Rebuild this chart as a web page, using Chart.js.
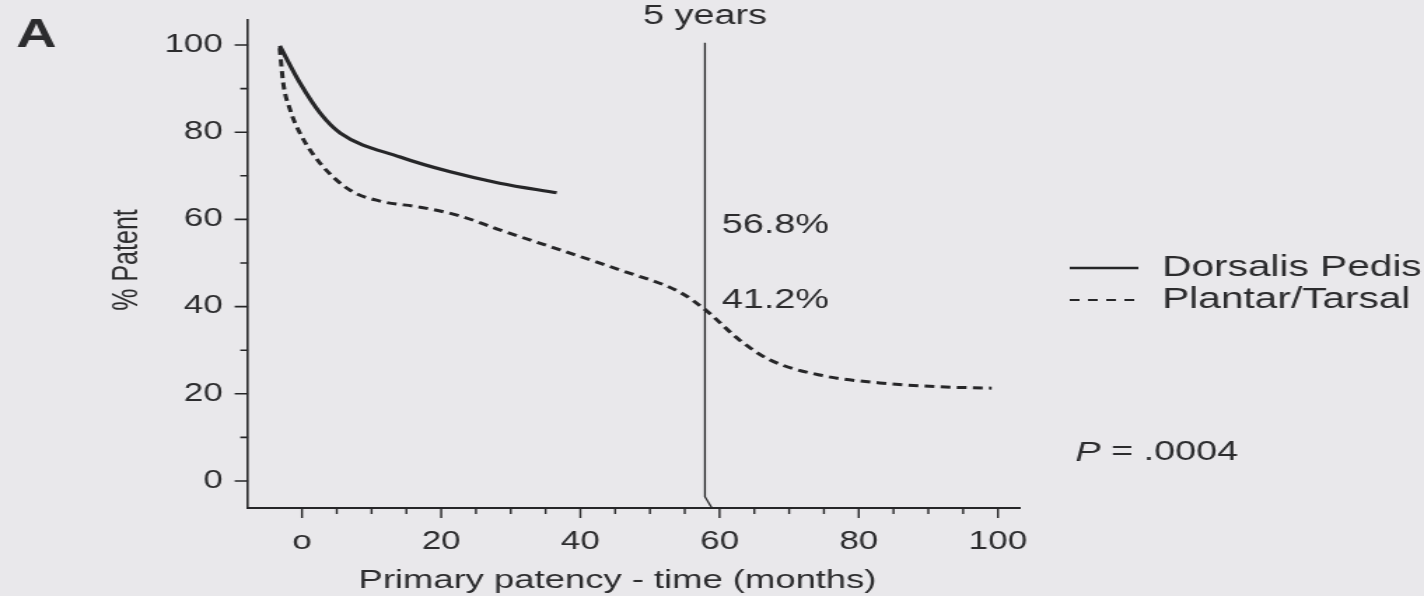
<!DOCTYPE html>
<html>
<head>
<meta charset="utf-8">
<title>Primary patency</title>
<script src="https://cdn.jsdelivr.net/npm/chart.js@4.4.0/dist/chart.umd.min.js"></script>
<style>
  html, body { margin: 0; padding: 0; background: #e9e8eb; overflow: hidden; }
  #chart { display: block; }
</style>
</head>
<body>
<!-- the scanned figure is wider than it is tall, so the canvas is stretched sideways -->
<canvas id="chart" width="1017" height="596" style="width:1424px;height:596px"></canvas>
<script>
// values (months, % patent)
const dorsalisMonths = [-3.2, -0.3, 2.6, 5.5, 14.1, 21.3, 28.4, 36.6];
const dorsalisPatent = [99.8, 91.3, 84.4, 79.8, 74.3, 70.9, 68.3, 66.1];
const plantarMonths = [-3.2, -2.7, -1.7, -0.3, 2.6, 6.9, 11.2, 17.0, 22.7, 28.4, 37.1, 45.7, 54.3, 58.0, 62.9, 67.2, 74.4, 83.0, 91.7, 99.1];
const plantarPatent = [99.3, 91.3, 85.1, 79.8, 72.9, 66.7, 64.2, 62.8, 60.8, 57.6, 53.0, 48.4, 43.3, 39.2, 32.3, 27.8, 24.3, 22.5, 21.6, 21.3];
const markerMonths = [57.9, 57.9, 58.9];
const markerPatent = [100.5, -3.6, -6.2];

const seriesNames = ["Dorsalis Pedis", "Plantar/Tarsal"];
const yTickValues = [0, 20, 40, 60, 80, 100];
const yTickLabels = ["0", "20", "40", "60", "80", "100"];
const xTickValues = [0, 20, 40, 60, 80, 100];
const xTickLabels = ["o", "20", "40", "60", "80", "100"];
const markerLabel = "5 years";
const rateLabels = ["56.8%", "41.2%"];
const rateLabelLevels = [58.7, 41.5];
const pValue = ".0004";

const INK = "#262628";
const TEXT = "#2c2c2e";
const FONT = "'Liberation Sans', Arial, Helvetica, sans-serif";

Chart.defaults.font.family = FONT;
Chart.defaults.color = TEXT;

function toPoints(xs, ys) {
    return xs.map((x, i) => ({ x: x, y: ys[i] }));
}

// tick marks, legend and the free text of the figure
const figureExtras = {
    id: "figureExtras",
    afterDraw(chart) {
        const { ctx, scales: { x, y } } = chart;
        const sets = chart.data.datasets;
        ctx.save();

        // tick marks: long at labelled values, short in between
        ctx.strokeStyle = INK;
        ctx.lineWidth = 1.6;
        ctx.beginPath();
        for (let v = 0; v <= 100; v += 10) {
            const py = y.getPixelForValue(v);
            const len = v % 20 === 0 ? 9.5 : 5.5;
            ctx.moveTo(x.left - len, py);
            ctx.lineTo(x.left, py);
        }
        ctx.stroke();
        ctx.lineWidth = 1.4;
        ctx.beginPath();
        for (let v = 0; v <= 100; v += 5) {
            const px = x.getPixelForValue(v);
            const len = v % 20 === 0 ? 10 : 6;
            ctx.moveTo(px, y.bottom);
            ctx.lineTo(px, y.bottom + len);
        }
        ctx.stroke();

        ctx.fillStyle = TEXT;
        ctx.textBaseline = "middle";

        // panel letter
        ctx.font = "bold 40px " + FONT;
        ctx.textAlign = "center";
        ctx.fillText("A", 26, 36);

        // axis titles
        ctx.font = "26px " + FONT;
        ctx.fillText("Primary patency - time (months)", 441, 581);
        ctx.save();
        ctx.translate(91, (y.top + y.bottom) / 2 - 4);
        ctx.rotate(-Math.PI / 2);
        ctx.font = "25px " + FONT;
        ctx.fillText("% Patent", 0, 0);
        ctx.restore();

        // 5-year marker texts
        const mx = x.getPixelForValue(markerMonths[0]);
        ctx.font = "27px " + FONT;
        ctx.textAlign = "center";
        ctx.fillText(markerLabel, mx, 17);
        ctx.textAlign = "left";
        rateLabels.forEach((t, i) => {
            ctx.fillText(t, mx + 12, y.getPixelForValue(rateLabelLevels[i]));
        });

        // legend
        const legendRows = [268, 300];
        ctx.font = "29px " + FONT;
        seriesNames.forEach((name, i) => {
            const ds = sets[i];
            const ly = legendRows[i];
            ctx.strokeStyle = ds.borderColor;
            ctx.lineWidth = i === 0 ? 2.6 : 2.2;
            ctx.setLineDash(i === 0 ? [] : [7, 6]);
            ctx.beginPath();
            ctx.moveTo(764, ly);
            ctx.lineTo(813, ly);
            ctx.stroke();
            ctx.setLineDash([]);
            ctx.fillText(name, 830, ly);
        });

        // p value
        ctx.font = "italic 27px " + FONT;
        ctx.fillText("P", 768, 453);
        const pw = ctx.measureText("P").width;
        ctx.font = "27px " + FONT;
        ctx.fillText(" = " + pValue, 768 + pw, 453);

        ctx.restore();
    }
};

const ctx = document.getElementById("chart");
new Chart(ctx, {
    type: "line",
    data: {
        datasets: [
            {
                label: seriesNames[0],
                data: toPoints(dorsalisMonths, dorsalisPatent),
                borderColor: INK,
                borderWidth: 3.2,
                pointRadius: 0,
                cubicInterpolationMode: "monotone"
            },
            {
                label: seriesNames[1],
                data: toPoints(plantarMonths, plantarPatent),
                borderColor: INK,
                borderWidth: 3,
                borderDash: [7, 4.5],
                pointRadius: 0,
                cubicInterpolationMode: "monotone"
            },
            {
                label: markerLabel,
                data: toPoints(markerMonths, markerPatent),
                borderColor: INK,
                borderWidth: 1.3,
                pointRadius: 0,
                tension: 0
            }
        ]
    },
    options: {
        responsive: false,
        animation: false,
        events: [],
        layout: { padding: { left: 0, right: 288.4, top: 20, bottom: 0 } },
        plugins: {
            legend: { display: false },
            tooltip: { enabled: false }
        },
        scales: {
            x: {
                type: "linear",
                min: -7.76,
                max: 103.2,
                grid: { display: false, drawTicks: false },
                border: { display: true, color: INK, width: 2 },
                afterBuildTicks: (scale) => {
                    scale.ticks = xTickValues.map(v => ({ value: v }));
                },
                afterFit: (scale) => {
                    scale.height = 88;
                    scale.paddingLeft = 0;
                    scale.paddingRight = 0;
                },
                ticks: {
                    autoSkip: false,
                    maxRotation: 0,
                    padding: 19,
                    font: { size: 25 },
                    color: TEXT,
                    callback: (value) => xTickLabels[xTickValues.indexOf(value)]
                }
            },
            y: {
                type: "linear",
                min: -6.19,
                max: 105.73,
                grid: { display: false, drawTicks: false },
                border: { display: true, color: INK, width: 1.6 },
                afterBuildTicks: (scale) => {
                    scale.ticks = yTickValues.map(v => ({ value: v }));
                },
                afterFit: (scale) => {
                    scale.width = 177.1;
                    scale.paddingTop = 0;
                    scale.paddingBottom = 0;
                },
                ticks: {
                    autoSkip: false,
                    padding: 18,
                    font: { size: 25 },
                    color: TEXT,
                    callback: (value) => yTickLabels[yTickValues.indexOf(value)]
                }
            }
        }
    },
    plugins: [figureExtras]
});
</script>
</body>
</html>
